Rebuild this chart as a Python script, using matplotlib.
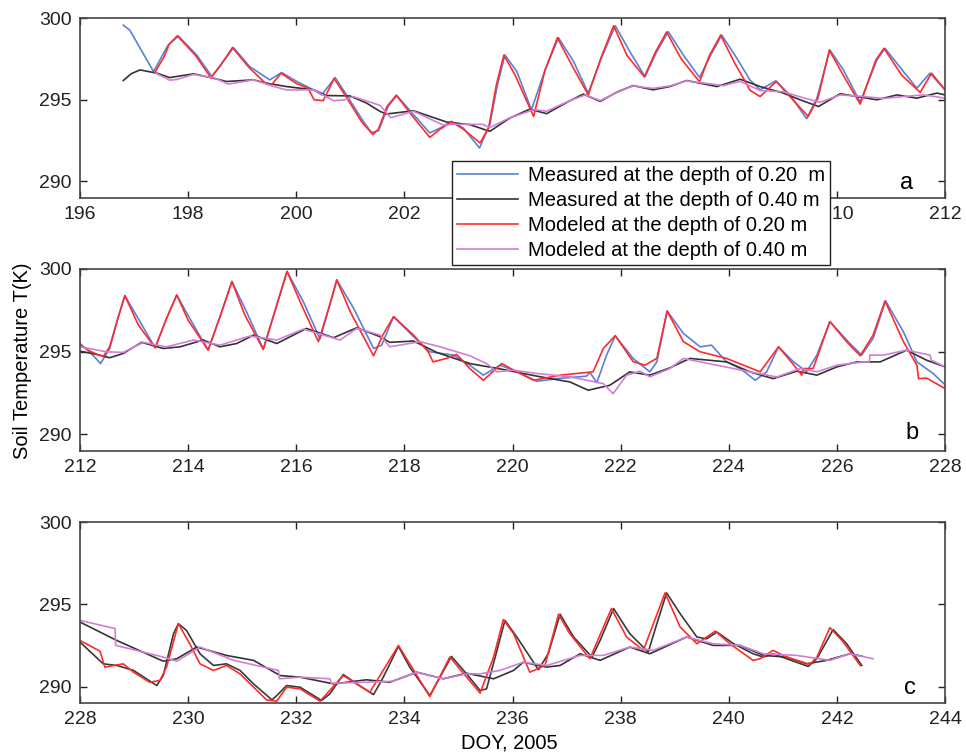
import numpy as np
import matplotlib
matplotlib.use('Agg')
import matplotlib.pyplot as plt

plt.rcParams['font.family'] = ['Liberation Sans', 'DejaVu Sans']

# ---- panel a : DOY 196-212 ----
a_m20_x = [196.80, 196.92, 197.36, 197.63, 197.82, 198.16, 198.44, 198.84, 199.14, 199.51,
           199.73, 200.01, 200.32, 200.47, 200.72, 200.93, 201.24, 201.39, 201.52, 201.70,
           201.86, 202.17, 202.47, 202.66, 202.87, 203.09, 203.39, 203.58, 203.72, 203.86,
           204.08, 204.35, 204.60, 204.85, 205.13, 205.40, 205.65, 205.90, 206.17, 206.45,
           206.66, 206.88, 207.16, 207.46, 207.66, 207.87, 208.15, 208.39, 208.58, 208.87,
           209.13, 209.44, 209.63, 209.87, 210.12, 210.43, 210.74, 210.89, 211.23, 211.48,
           211.72, 212.00]
a_m20_y = [299.57, 299.27, 296.73, 298.35, 298.90, 297.74, 296.42, 298.19, 297.03, 296.22,
           296.67, 296.12, 295.61, 295.30, 296.36, 295.30, 293.68, 293.00, 293.10, 294.60,
           295.26, 294.09, 292.97, 293.27, 293.68, 293.27, 292.05, 293.48, 295.90, 297.74,
           296.73, 294.39, 296.80, 298.80, 297.34, 295.41, 297.60, 299.53, 297.95, 296.42,
           297.90, 299.17, 297.74, 296.36, 297.70, 298.96, 297.54, 296.22, 295.61, 296.16,
           295.30, 293.84, 295.10, 298.05, 296.83, 294.86, 297.44, 298.15, 296.73, 295.71,
           296.63, 295.61]

a_m40_x = [196.80, 196.95, 197.11, 197.42, 197.66, 198.10, 198.47, 198.71, 199.21, 199.45,
           199.82, 200.32, 200.56, 200.99, 201.30, 201.55, 201.67, 202.17, 202.78, 203.21,
           203.58, 203.95, 204.32, 204.63, 205.06, 205.31, 205.62, 205.93, 206.23, 206.60,
           206.91, 207.22, 207.78, 208.21, 208.58, 209.01, 209.32, 209.66, 210.06, 210.37,
           210.74, 211.11, 211.48, 211.85, 212.00]
a_m40_y = [296.18, 296.60, 296.83, 296.63, 296.36, 296.59, 296.32, 296.12, 296.22, 296.02,
           295.81, 295.61, 295.26, 295.24, 294.80, 294.29, 294.13, 294.33, 293.64, 293.48,
           293.07, 293.88, 294.43, 294.15, 294.94, 295.35, 294.90, 295.47, 295.87, 295.61,
           295.81, 296.18, 295.81, 296.26, 295.81, 295.41, 295.00, 294.59, 295.37, 295.20,
           295.00, 295.30, 295.10, 295.41, 295.30]

a_s20_x = [197.38, 197.55, 197.65, 197.80, 198.14, 198.42, 198.60, 198.82, 199.12, 199.45,
           199.55, 199.72, 200.00, 200.22, 200.33, 200.50, 200.70, 200.90, 201.22, 201.42,
           201.52, 201.68, 201.85, 202.15, 202.47, 202.66, 202.87, 203.09, 203.40, 203.56,
           203.70, 203.84, 204.05, 204.39, 204.60, 204.83, 205.10, 205.40, 205.64, 205.87,
           206.12, 206.44, 206.64, 206.85, 207.12, 207.46, 207.64, 207.85, 208.10, 208.30,
           208.39, 208.58, 208.88, 209.13, 209.47, 209.65, 209.86, 210.10, 210.43, 210.72,
           210.87, 211.20, 211.54, 211.75, 212.00]
a_s20_y = [296.65, 297.60, 298.40, 298.92, 297.70, 296.35, 297.10, 298.20, 297.00, 295.95,
           295.95, 296.62, 296.00, 295.70, 295.00, 294.95, 296.30, 295.30, 293.60, 292.87,
           293.20, 294.60, 295.28, 294.00, 292.70, 293.20, 293.65, 293.20, 292.36, 293.30,
           295.90, 297.74, 296.50, 293.98, 296.80, 298.80, 297.10, 295.30, 297.60, 299.53,
           297.70, 296.40, 297.90, 299.15, 297.50, 296.10, 297.70, 298.96, 297.30, 296.15,
           295.59, 295.20, 296.12, 295.20, 293.98, 295.10, 298.05, 296.60, 294.74, 297.44,
           298.15, 296.50, 295.45, 296.63, 295.61]

a_s40_x = [197.40, 197.66, 197.80, 198.10, 198.47, 198.75, 199.21, 199.55, 199.82, 200.32,
           200.69, 200.90, 201.05, 201.55, 201.75, 202.17, 202.72, 202.90, 203.45, 203.58,
           203.95, 204.40, 204.63, 205.06, 205.35, 205.62, 205.93, 206.23, 206.60, 206.91,
           207.22, 207.90, 208.21, 208.58, 209.01, 209.38, 209.69, 210.06, 210.49, 210.86,
           211.23, 211.60, 212.00]
a_s40_y = [296.63, 296.20, 296.25, 296.55, 296.35, 295.96, 296.22, 295.85, 295.60, 295.61,
           294.94, 295.00, 295.20, 294.66, 293.90, 294.30, 293.45, 293.50, 293.50, 293.30,
           293.90, 294.40, 294.30, 294.95, 295.30, 294.95, 295.45, 295.85, 295.70, 295.85,
           296.16, 295.87, 296.13, 295.57, 295.49, 295.12, 294.85, 295.30, 295.20, 295.08,
           295.20, 295.30, 295.10]

# ---- panel b : DOY 212-228 ----
b_m20_x = [212.00, 212.18, 212.38, 212.55, 212.70, 212.83, 213.11, 213.39, 213.60, 213.79,
           214.03, 214.37, 214.60, 214.81, 215.08, 215.39, 215.62, 215.83, 216.13, 216.44,
           216.60, 216.75, 217.06, 217.43, 217.58, 217.80, 218.17, 218.47, 218.91, 219.21,
           219.46, 219.77, 220.02, 220.45, 220.82, 221.37, 221.43, 221.56, 221.74, 221.90,
           222.23, 222.54, 222.67, 222.86, 223.16, 223.47, 223.68, 223.96, 224.21, 224.49,
           224.70, 224.92, 225.20, 225.44, 225.63, 225.87, 226.24, 226.46, 226.67, 226.90,
           227.23, 227.48, 227.78, 228.00]
b_m20_y = [295.49, 294.99, 294.28, 295.19, 297.00, 298.38, 296.81, 295.23, 297.00, 298.42,
           297.01, 295.09, 297.20, 299.23, 297.41, 295.15, 297.60, 299.84, 298.02, 295.76,
           297.60, 299.33, 297.62, 295.19, 295.39, 297.11, 295.90, 294.99, 294.79, 294.18,
           293.58, 294.18, 293.88, 293.21, 293.37, 293.52, 293.75, 293.13, 294.79, 295.96,
           294.59, 293.78, 294.38, 297.45, 296.10, 295.29, 295.39, 294.38, 293.98, 293.27,
           293.78, 295.29, 294.38, 293.78, 294.79, 296.81, 295.49, 294.79, 295.80, 298.06,
           296.20, 294.38, 293.68, 293.00]

b_m40_x = [212.00, 212.31, 212.55, 212.80, 213.14, 213.54, 213.85, 214.28, 214.59, 214.90,
           215.21, 215.64, 216.19, 216.69, 217.12, 217.55, 217.73, 218.17, 218.60, 219.21,
           219.83, 220.45, 221.06, 221.40, 221.80, 222.17, 222.54, 222.91, 223.28, 223.96,
           224.39, 224.82, 225.26, 225.63, 226.00, 226.37, 226.80, 227.29, 227.66, 228.00]
b_m40_y = [295.03, 294.83, 294.63, 294.89, 295.56, 295.19, 295.29, 295.70, 295.29, 295.49,
           296.00, 295.49, 296.40, 295.84, 296.44, 295.90, 295.56, 295.64, 294.95, 294.28,
           293.92, 293.52, 293.17, 292.67, 292.97, 293.78, 293.58, 294.02, 294.59, 294.38,
           293.78, 293.37, 293.82, 293.58, 294.08, 294.38, 294.38, 295.09, 294.48, 294.08]

b_s20_x = [212.00, 212.20, 212.43, 212.55, 212.70, 212.83, 213.08, 213.39, 213.60, 213.79,
           214.00, 214.37, 214.60, 214.81, 215.05, 215.39, 215.62, 215.83, 216.10, 216.41,
           216.60, 216.75, 217.00, 217.43, 217.60, 217.80, 218.17, 218.44, 218.53, 218.78,
           218.97, 219.21, 219.46, 219.80, 220.08, 220.39, 220.88, 221.49, 221.68, 221.90,
           222.23, 222.45, 222.67, 222.86, 223.16, 223.47, 223.96, 224.58, 224.92, 225.20,
           225.35, 225.38, 225.56, 225.87, 226.18, 226.43, 226.67, 226.89, 227.23, 227.48,
           227.51, 227.66, 228.00]
b_s20_y = [295.40, 295.00, 294.70, 295.30, 297.00, 298.38, 296.60, 295.23, 297.00, 298.42,
           296.90, 295.09, 297.20, 299.23, 297.20, 295.13, 297.60, 299.84, 297.80, 295.60,
           297.60, 299.33, 297.40, 294.75, 296.00, 297.11, 296.00, 294.99, 294.38, 294.59,
           294.83, 293.98, 293.27, 294.28, 293.78, 293.27, 293.58, 293.78, 295.19, 295.96,
           294.40, 294.18, 294.60, 297.45, 295.60, 294.99, 294.59, 293.78, 295.29, 294.20,
           293.58, 293.98, 293.98, 296.81, 295.60, 294.75, 296.00, 298.06, 295.60, 294.18,
           293.37, 293.40, 292.77]

b_s40_x = [212.00, 212.49, 212.80, 213.17, 213.60, 214.10, 214.59, 215.14, 215.64, 216.13,
           216.81, 217.12, 217.55, 217.73, 218.29, 218.66, 219.21, 219.52, 219.71, 220.02,
           220.45, 221.06, 221.68, 221.86, 222.11, 222.36, 222.54, 222.91, 223.16, 223.78,
           224.39, 224.89, 225.32, 225.63, 226.00, 226.49, 226.60, 226.61, 226.86, 227.29,
           227.72, 227.75, 228.00]
b_s40_y = [295.29, 294.99, 294.95, 295.56, 295.29, 295.70, 295.39, 295.94, 295.70, 296.36,
           295.70, 296.40, 296.00, 295.29, 295.60, 295.29, 294.75, 294.28, 293.78, 293.88,
           293.68, 293.48, 293.07, 292.46, 293.58, 293.82, 293.48, 293.98, 294.59, 294.18,
           293.78, 293.47, 293.98, 293.78, 294.18, 294.38, 294.38, 294.79, 294.79, 295.09,
           294.79, 294.48, 294.08]

# ---- panel c : DOY 228-244 ----
c_m20_x = [228.00, 228.43, 228.68, 228.99, 229.42, 229.54, 229.73, 229.82, 229.97, 230.22,
           230.47, 230.71, 230.96, 231.21, 231.55, 231.64, 231.82, 232.07, 232.47, 232.62,
           232.87, 233.12, 233.43, 233.61, 233.89, 234.10, 234.47, 234.87, 235.15, 235.40,
           235.52, 235.68, 235.86, 236.08, 236.48, 236.66, 236.88, 237.13, 237.47, 237.62,
           237.87, 238.17, 238.51, 238.67, 238.85, 239.10, 239.41, 239.59, 239.78, 240.09,
           240.45, 240.64, 240.82, 241.07, 241.47, 241.63, 241.93, 242.18, 242.46]
c_m20_y = [292.70, 291.38, 291.28, 290.98, 290.06, 290.67, 293.21, 293.82, 293.41, 291.99,
           291.28, 291.38, 290.98, 290.16, 289.19, 289.45, 290.06, 289.96, 289.15, 289.55,
           290.73, 290.16, 289.51, 290.57, 292.44, 291.18, 289.45, 291.83, 290.77, 289.76,
           289.86, 291.79, 294.02, 293.01, 291.02, 291.99, 294.39, 293.01, 291.79, 292.80,
           294.74, 293.21, 292.09, 293.82, 295.69, 294.43, 293.01, 292.90, 293.31, 292.60,
           291.99, 291.79, 291.99, 291.69, 291.22, 291.69, 293.46, 292.60, 291.28]

c_m40_x = [228.00, 228.68, 229.54, 229.79, 230.16, 230.71, 231.21, 231.70, 232.07, 232.69,
           233.30, 233.73, 234.23, 234.72, 235.15, 235.65, 236.02, 236.20, 236.63, 236.88,
           237.25, 237.62, 238.17, 238.54, 239.22, 239.71, 240.21, 240.64, 241.07, 241.44,
           241.81, 242.24, 242.46]
c_m40_y = [293.92, 292.80, 291.54, 291.69, 292.40, 291.89, 291.59, 290.67, 290.57, 290.16,
           290.41, 290.26, 290.87, 290.47, 290.81, 290.47, 290.98, 291.48, 291.18, 291.28,
           291.99, 291.59, 292.40, 291.99, 293.01, 292.50, 292.50, 291.89, 291.79, 291.38,
           291.59, 291.99, 291.85]

c_s20_x = [228.00, 228.37, 228.46, 228.80, 228.99, 229.29, 229.48, 229.60, 229.82, 230.03,
           230.22, 230.47, 230.71, 230.96, 231.45, 231.64, 231.82, 232.07, 232.44, 232.87,
           233.36, 233.89, 234.47, 234.84, 235.40, 235.65, 235.83, 236.02, 236.32, 236.60,
           236.85, 237.06, 237.43, 237.83, 238.11, 238.42, 238.82, 239.10, 239.41, 239.75,
           240.02, 240.45, 240.58, 240.82, 241.07, 241.50, 241.63, 241.87, 242.12, 242.43]
c_s20_y = [292.80, 292.15, 291.18, 291.38, 290.87, 290.26, 290.37, 291.18, 293.82, 292.60,
           291.38, 290.98, 291.28, 290.77, 289.19, 289.11, 289.96, 289.86, 289.11, 290.67,
           289.65, 292.50, 289.39, 291.79, 289.60, 291.79, 294.07, 293.21, 290.87, 291.28,
           294.39, 293.21, 291.69, 294.74, 293.01, 292.20, 295.69, 293.62, 292.60, 293.37,
           292.60, 291.59, 291.69, 292.20, 291.79, 291.34, 291.79, 293.58, 292.70, 291.28]

c_s40_x = [228.00, 228.65, 228.66, 228.99, 229.54, 229.79, 230.22, 230.84, 231.67, 231.69,
           232.07, 232.62, 232.65, 233.30, 233.79, 234.23, 234.72, 235.15, 235.40, 235.77,
           236.20, 236.63, 237.25, 237.68, 238.17, 238.60, 239.22, 239.71, 240.21, 240.64,
           241.26, 241.87, 242.24, 242.67]
c_s40_y = [294.02, 293.52, 292.50, 292.24, 291.79, 291.54, 292.40, 291.59, 290.98, 290.47,
           290.57, 290.47, 290.20, 290.26, 290.32, 290.87, 290.47, 290.77, 290.77, 290.98,
           291.48, 291.28, 291.89, 291.89, 292.40, 292.20, 293.01, 292.60, 292.50, 291.99,
           291.89, 291.59, 291.99, 291.69]

labels = ['Measured at the depth of 0.20  m', 'Measured at the depth of 0.40 m',
          'Modeled at the depth of 0.20 m', 'Modeled at the depth of 0.40 m']
c_blue, c_black, c_red, c_mag = '#5b80d8', '#333333', '#ff2b2b', '#d27ed6'

panels = [
    ('a', (196, 212), a_m20_x, a_m20_y, a_m40_x, a_m40_y, a_s20_x, a_s20_y, a_s40_x, a_s40_y, c_blue),
    ('b', (212, 228), b_m20_x, b_m20_y, b_m40_x, b_m40_y, b_s20_x, b_s20_y, b_s40_x, b_s40_y, c_blue),
    ('c', (228, 244), c_m20_x, c_m20_y, c_m40_x, c_m40_y, c_s20_x, c_s20_y, c_s40_x, c_s40_y, '#3a3a3a'),
]
rects = [[0.0828, 0.738, 0.8955, 0.238],
         [0.0828, 0.4026, 0.8955, 0.2414],
         [0.0828, 0.0689, 0.8955, 0.2397]]
letter_pos = [(0.955, 0.08), (0.962, 0.10), (0.96, 0.085)]

fig = plt.figure(figsize=(9.66, 7.55), dpi=100)
handles = None
for (tag, xl, mx, my, kx, ky, sx, sy, gx, gy, col), r, lp in zip(panels, rects, letter_pos):
    ax = fig.add_axes(r)
    h1, = ax.plot(mx, my, color=col, lw=1.2)
    h2, = ax.plot(kx, ky, color=c_black, lw=1.2)
    h3, = ax.plot(sx, sy, color=c_red, lw=1.2)
    h4, = ax.plot(gx, gy, color=c_mag, lw=1.2)
    ax.set_xlim(*xl)
    ax.set_ylim(289, 300)
    ax.set_xticks(np.arange(xl[0], xl[1] + 1, 2))
    ax.set_yticks([290, 295, 300])
    ax.tick_params(direction='in', top=True, right=True, length=5, width=1,
                   labelsize=14, colors='#222222', pad=6)
    for s in ax.spines.values():
        s.set_color('#444444')
        s.set_linewidth(1.2)
    ax.text(lp[0], lp[1], tag, transform=ax.transAxes, ha='center', va='center', fontsize=17)
    if handles is None:
        handles = [h1, h2, h3, h4]
        # tick labels 204-208 sit fully under the legend box
        fig.canvas.draw()
        for t in ax.get_xticklabels():
            if t.get_text() in ('204', '206', '208'):
                t.set_visible(False)

fig.legend(handles, labels, loc='upper left', bbox_to_anchor=(0.468, 0.787),
           prop={'size': 14.5}, frameon=True, fancybox=False, edgecolor='#222222',
           handlelength=3.0, labelspacing=0.3, borderpad=0.25, handletextpad=0.5,
           borderaxespad=0.0, framealpha=1)

fig.text(0.023, 0.522, 'Soil Temperature T(K)', rotation=90, ha='center', va='center', fontsize=14.5)
fig.text(0.527, 0.016, 'DOY, 2005', ha='center', va='center', fontsize=14.5)

plt.savefig('out.png', dpi=100)
